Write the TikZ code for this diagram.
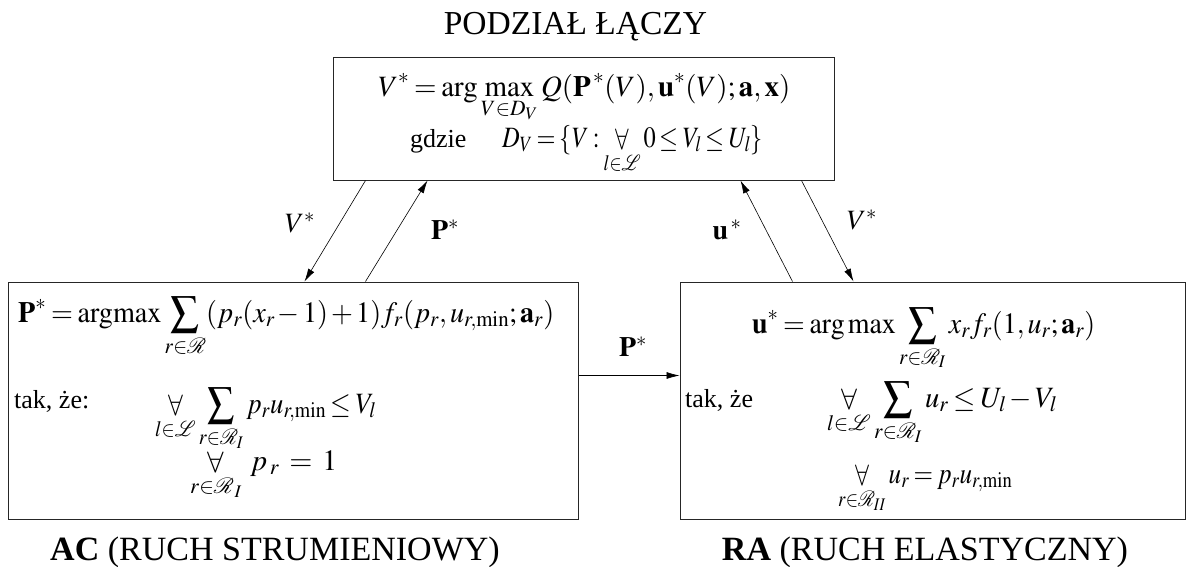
\documentclass[tikz,border=0pt]{standalone}
\usepackage{mathptmx}
\usepackage[no-math]{fontspec}
\setmainfont{Liberation Serif}
\usetikzlibrary{arrows.meta,calc}
\newcommand{\fitw}[2]{\resizebox{#1}{\height}{#2}}
\newcommand{\tightsp}{\thickmuskip=3mu\relax\medmuskip=2mu\relax\thinmuskip=2mu\relax}
\tikzset{
  box/.style={draw=black!85, line width=1pt, inner sep=0pt},
  conn/.style={draw=black, line width=0.6pt, -{Latex[length=13pt,width=7pt]}},
  mth/.style={inner sep=0pt, anchor=base west, font=\fontsize{29.5}{35}\selectfont},
  txt/.style={inner sep=0pt, anchor=base west, font=\fontsize{26}{30}\selectfont},
  lbl/.style={inner sep=0pt, font=\fontsize{28}{32}\selectfont},
  ttl/.style={inner sep=0pt, anchor=base, font=\fontsize{33.5}{40}\selectfont}
}
\begin{document}
\begin{tikzpicture}[x=1pt,y=-1pt]
\useasboundingbox (0,0) rectangle (1187,566);
% boxes
\node[box, minimum width=501pt, minimum height=123pt] (top) at (583.5,118.5) {};
\node[box, minimum width=570pt, minimum height=237pt] (left) at (293,400.5) {};
\node[box, minimum width=505pt, minimum height=237pt] (right) at (932.5,400.5) {};
% titles
\node[ttl] (t1) at (575.5,34) {PODZIAŁ ŁĄCZY};
\node[ttl, font=\fontsize{34}{40}\selectfont] (t2) at (275,560) {\textbf{AC} (RUCH STRUMIENIOWY)};
\node[ttl, font=\fontsize{34}{40}\selectfont] (t3) at (925,560) {\textbf{RA} (RUCH ELASTYCZNY)};
% top box content
\node[mth] (q1) at (378,96) {\fitw{412pt}{$\tightsp\displaystyle V^{*} = \arg\max\limits_{V\in D_V} Q(\mathbf{P}^{\,*}(V),\mathbf{u}^{*}(V);\mathbf{a},\mathbf{x})$}};
\node[txt] (q0) at (410,147) {gdzie};
\node[mth] (q2) at (502,147) {\fitw{261pt}{$\tightsp\displaystyle D_V = \{V : \mathop{\forall}\limits_{l\in\mathcal{L}} 0 \le V_l \le U_l\}$}};
% left box content
\node[mth] (a1) at (18,322) {\fitw{536pt}{$\tightsp\displaystyle \mathbf{P}^{*} = \mathop{\mathrm{argmax}} \sum_{r\in\mathcal{R}} (p_r(x_r-1)+1) f_r(p_r,u_{r,\min};\mathbf{a}_r)$}};
\node[txt] (a0) at (14,408) {tak, że:};
\node[mth] (a2) at (155,413) {\fitw{221pt}{$\tightsp\displaystyle \mathop{\forall}\limits_{l\in\mathcal{L}} \sum_{r\in\mathcal{R}_I} p_r u_{r,\min} \le V_l$}};
\node[mth] (a3) at (190,470) {\fitw{147pt}{$\tightsp\displaystyle \mathop{\forall}\limits_{r\in\mathcal{R}_{\,I}}\; p_{\,r} \;=\; 1$}};
% right box content
\node[mth] (b1) at (752,333) {\fitw{343pt}{$\tightsp\displaystyle \mathbf{u}^{*} = \arg\max \sum_{r\in\mathcal{R}_I} x_r f_r(1,u_r;\mathbf{a}_r)$}};
\node[txt] (b0) at (685,407) {tak, że};
\node[mth] (b2) at (827,407) {\fitw{230pt}{$\tightsp\displaystyle \mathop{\forall}\limits_{l\in\mathcal{L}} \sum_{r\in\mathcal{R}_I} u_r \le U_l - V_l$}};
\node[mth] (b3) at (838,483) {\fitw{174pt}{$\tightsp\displaystyle \mathop{\forall}\limits_{r\in\mathcal{R}_{II}} u_r = p_r u_{r,\min}$}};
% connector end points
\coordinate (c1) at ($(top.south west)+(33,0)$);
\coordinate (c2) at ($(left.north west)+(297,0)$);
\coordinate (c3) at ($(left.north west)+(358,0)$);
\coordinate (c4) at ($(top.south west)+(95,0)$);
\coordinate (c5) at ($(right.north west)+(113,0)$);
\coordinate (c6) at ($(top.south west)+(408,0)$);
\coordinate (c7) at ($(top.south west)+(469,0)$);
\coordinate (c8) at ($(right.north west)+(174,0)$);
\coordinate (c9) at ($(left.north east)+(0,94)$);
\coordinate (c10) at ($(right.north west)+(0,94)$);
% connectors
\draw[conn] (c1) -- (c2);
\draw[conn] (c3) -- (c4);
\draw[conn] (c5) -- (c6);
\draw[conn] (c7) -- (c8);
\draw[conn] (c9) -- (c10);
% connector labels
\node[lbl] (l1) at (300,223) {$V^{*}$};
\node[lbl] (l2) at (445,230) {$\mathbf{P}^{*}$};
\node[lbl] (l3) at (727,230) {$\mathbf{u}^{\,*}$};
\node[lbl] (l4) at (862,220) {$V^{*}$};
\node[lbl] (l5) at (633,347) {$\mathbf{P}^{*}$};
\end{tikzpicture}
\end{document}
